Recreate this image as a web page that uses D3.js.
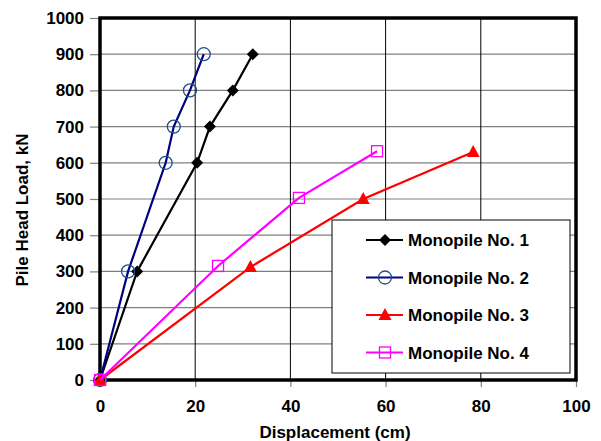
<!DOCTYPE html>
<meta charset='utf-8'>
<head>
  <title>Pile head load</title>
</head>
<style>
body { margin: 0; background: white; }
svg text { font-family: "Liberation Sans", Arial, sans-serif; font-weight: bold; }
</style>
<body>
<svg width='601' height='441'></svg>
<script src='https://cdn.jsdelivr.net/npm/d3@7'></script>
<script>
var xTicks = [0, 20, 40, 60, 80, 100];
var yTicks = [0, 100, 200, 300, 400, 500, 600, 700, 800, 900, 1000];

var seriesNames = ['Monopile No. 1', 'Monopile No. 2', 'Monopile No. 3', 'Monopile No. 4'];
var pile1 = [[0, 0], [7.8, 300], [20.4, 600], [23.1, 700], [27.9, 800], [32.1, 900]];
var pile2 = [[0, 0], [5.9, 300], [13.8, 600], [15.5, 700], [18.9, 800], [21.8, 900]];
var pile3 = [[0, 0], [31.6, 312], [55.3, 500], [78.4, 630]];
var pile4 = [[0, 0], [24.8, 315], [41.8, 503], [58.2, 632]];

var series = [
  {name: seriesNames[0], data: pile1, color: '#000000', marker: 'diamond'},
  {name: seriesNames[1], data: pile2, color: '#000080', marker: 'circle'},
  {name: seriesNames[2], data: pile3, color: '#ff0000', marker: 'triangle'},
  {name: seriesNames[3], data: pile4, color: '#ff00ff', marker: 'square'}
];

var fs = 17;
var plotL = 100, plotR = 576, plotT = 18, plotB = 380;
var x = d3.scaleLinear().domain([0, 100]).range([plotL, plotR]);
var y = d3.scaleLinear().domain([0, 1000]).range([plotB, plotT]);

var svg = d3.select('svg');

// horizontal grid
svg.append('g')
  .selectAll('line')
  .data(yTicks.slice(1, -1))
  .enter().append('line')
  .attr('x1', plotL).attr('x2', plotR)
  .attr('y1', function(d) { return y(d); })
  .attr('y2', function(d) { return y(d); })
  .attr('stroke', '#808080').attr('stroke-width', 1.2);

// vertical grid
svg.append('g')
  .selectAll('line')
  .data(xTicks.slice(1, -1))
  .enter().append('line')
  .attr('y1', plotT).attr('y2', plotB)
  .attr('x1', function(d) { return x(d); })
  .attr('x2', function(d) { return x(d); })
  .attr('stroke', '#000').attr('stroke-width', 1);

// axes
var yAxis = svg.append('g')
  .attr('transform', 'translate(' + plotL + ',0)')
  .call(d3.axisLeft(y).tickValues(yTicks).tickFormat(d3.format('d')).tickSize(10).tickPadding(6));
var xAxis = svg.append('g')
  .attr('transform', 'translate(0,' + plotB + ')')
  .call(d3.axisBottom(x).tickValues(xTicks).tickFormat(d3.format('d')).tickSize(7).tickPadding(13));

[xAxis, yAxis].forEach(function(a) {
  a.select('.domain').remove();
  a.selectAll('.tick line').attr('stroke', '#808080').attr('stroke-width', 1.2);
  a.selectAll('.tick text').attr('font-size', fs).attr('fill', '#000')
    .attr('font-family', '"Liberation Sans", Arial, sans-serif').attr('font-weight', 'bold');
});

// plot frame
svg.append('rect')
  .attr('x', plotL).attr('y', plotT)
  .attr('width', plotR - plotL).attr('height', plotB - plotT)
  .attr('fill', 'none').attr('stroke', '#000').attr('stroke-width', 3.5);

var line = d3.line()
  .x(function(d) { return x(d[0]); })
  .y(function(d) { return y(d[1]); });

function drawMarker(g, type, color, cx, cy) {
  if (type === 'diamond') {
    g.append('path').attr('d', 'M' + cx + ',' + (cy - 6) + 'L' + (cx + 6) + ',' + cy + 'L' + cx + ',' + (cy + 6) + 'L' + (cx - 6) + ',' + cy + 'Z')
      .attr('fill', color);
  } else if (type === 'circle') {
    g.append('circle').attr('cx', cx).attr('cy', cy).attr('r', 6.5)
      .attr('fill', 'none').attr('stroke', '#1f4e8c').attr('stroke-width', 1.3);
  } else if (type === 'triangle') {
    g.append('path').attr('d', 'M' + cx + ',' + (cy - 7) + 'L' + (cx + 6.5) + ',' + (cy + 5) + 'L' + (cx - 6.5) + ',' + (cy + 5) + 'Z')
      .attr('fill', color);
  } else {
    g.append('rect').attr('x', cx - 5.5).attr('y', cy - 5.5).attr('width', 11).attr('height', 11)
      .attr('fill', 'none').attr('stroke', color).attr('stroke-width', 1.3);
  }
}

series.forEach(function(s) {
  var g = svg.append('g');
  g.append('path').datum(s.data)
    .attr('d', line).attr('fill', 'none')
    .attr('stroke', s.color).attr('stroke-width', 2.2);
  s.data.forEach(function(d) {
    drawMarker(g, s.marker, s.color, x(d[0]), y(d[1]));
  });
});

// legend
var legend = svg.append('g');
legend.append('rect')
  .attr('x', 332).attr('y', 220).attr('width', 238).attr('height', 153)
  .attr('fill', 'white').attr('stroke', '#000').attr('stroke-width', 1);
series.forEach(function(s, i) {
  var ly = 240 + i * 37.5;
  legend.append('line').attr('x1', 366).attr('x2', 403).attr('y1', ly).attr('y2', ly)
    .attr('stroke', s.color).attr('stroke-width', 2.2);
  drawMarker(legend, s.marker, s.color, 385, ly);
  legend.append('text').attr('x', 408).attr('y', ly + 6)
    .attr('font-size', fs).text(s.name);
});

// axis titles
svg.append('text')
  .attr('x', 335).attr('y', 438)
  .attr('text-anchor', 'middle').attr('font-size', fs)
  .text('Displacement (cm)');
svg.append('text')
  .attr('transform', 'translate(28,210) rotate(-90)')
  .attr('text-anchor', 'middle').attr('font-size', fs)
  .text('Pile Head Load, kN');
</script>
</body>
</html>
